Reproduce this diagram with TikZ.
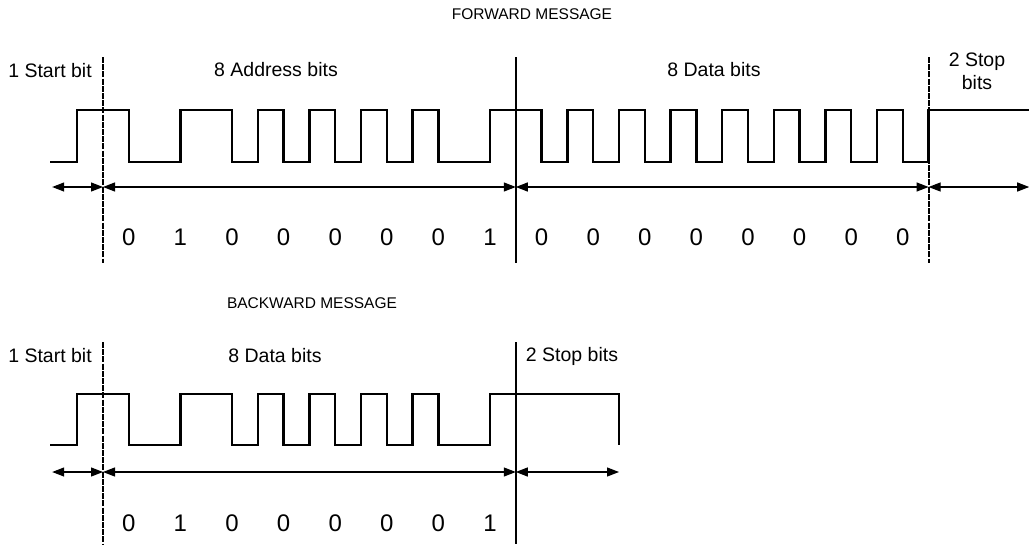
\documentclass[tikz,border=0pt]{standalone}
\usepackage{fontspec}
\setmainfont{Liberation Sans}
\usetikzlibrary{arrows.meta}

\tikzset{
  wave/.style={line width=2.4pt, line join=miter},
  divsolid/.style={line width=2pt},
  divdashed/.style={line width=2pt, dash pattern=on 6pt off 1.2pt},
  span/.style={line width=1.2pt,
    {Triangle[length=12pt,width=9pt]}-{Triangle[length=12pt,width=9pt]}},
  lbl/.style={inner sep=0pt, font=\fontsize{19.5}{23}\selectfont, align=center},
  digit/.style={inner sep=0pt, font=\fontsize{24}{26}\selectfont},
  head/.style={inner sep=0pt, font=\fontsize{15.5}{17}\selectfont}
}

\begin{document}
\begin{tikzpicture}[x=1pt, y=-1pt]
\useasboundingbox (0,0) rectangle (1029,544);

% ---------------- forward message ----------------
\node[head] (fwdhead) at (532,14) {FORWARD MESSAGE};
\node[lbl] (fstart) at (50,71) {1 Start bit};
\node[lbl] (faddr) at (276,70) {8 Address bits};
\node[lbl] (fdata) at (714,70) {8 Data bits};
\node[lbl] (fstop) at (977,71) {2 Stop\\bits};

% positions in half-bit units from the end of the start bit
\begin{scope}[xshift=103pt, x=25.8pt]
  % boundaries
  \coordinate (fa0) at (-1.97,187);
  \coordinate (fa1) at (0,187);
  \coordinate (fa2) at (16,187);
  \coordinate (fa3) at (32,187);
  \coordinate (fa4) at (35.9,187);
  \coordinate (fv1t) at (0,57);  \coordinate (fv1b) at (0,263);
  \coordinate (fv2t) at (16,57); \coordinate (fv2b) at (16,263);
  \coordinate (fv3t) at (32,57); \coordinate (fv3b) at (32,263);

  \draw[divdashed] (fv1t) -- (fv1b);
  \draw[divsolid]  (fv2t) -- (fv2b);
  \draw[divdashed] (fv3t) -- (fv3b);

  % Manchester waveform: start bit, address 01000001, data 00000000, stop
  \draw[wave] (-2.05,162)
    -| (-1,110) -| (1,162) -| (3,110) -| (5,162)
    -| (6,110) -| (7,162) -| (8,110) -| (9,162)
    -| (10,110) -| (11,162) -| (12,110) -| (13,162)
    -| (15,110) -| (17,162)
    -| (18,110) -| (19,162) -| (20,110) -| (21,162)
    -| (22,110) -| (23,162) -| (24,110) -| (25,162)
    -| (26,110) -| (27,162) -| (28,110) -| (29,162)
    -| (30,110) -| (31,162) -| (32,110) -- (35.9,110);

  \draw[span] (fa0) -- (fa1);
  \draw[span] (fa1) -- (fa2);
  \draw[span] (fa2) -- (fa3);
  \draw[span] (fa3) -- (fa4);

  \foreach \d [count=\i from 0] in {0,1,0,0,0,0,0,1,0,0,0,0,0,0,0,0}
    \node[digit] (fbit\i) at ({2*\i+1},237) {\d};
\end{scope}

% ---------------- backward message ----------------
\node[head] (bwdhead) at (312,303) {BACKWARD MESSAGE};
\node[lbl] (bstart) at (50,356) {1 Start bit};
\node[lbl] (bdata) at (275,356) {8 Data bits};
\node[lbl] (bstop) at (572,356) {2 Stop bits};

\begin{scope}[xshift=103pt, x=25.8pt]
  \coordinate (ba0) at (-1.97,472);
  \coordinate (ba1) at (0,472);
  \coordinate (ba2) at (16,472);
  \coordinate (ba3) at (20,472);
  \coordinate (bv1t) at (0,342);  \coordinate (bv1b) at (0,544);
  \coordinate (bv2t) at (16,342); \coordinate (bv2b) at (16,544);

  \draw[divdashed] (bv1t) -- (bv1b);
  \draw[divsolid]  (bv2t) -- (bv2b);

  % start bit, data 01000001, two stop bits
  \draw[wave] (-2.05,445)
    -| (-1,394) -| (1,445) -| (3,394) -| (5,445)
    -| (6,394) -| (7,445) -| (8,394) -| (9,445)
    -| (10,394) -| (11,445) -| (12,394) -| (13,445)
    -| (15,394) -| (20,445);

  \draw[span] (ba0) -- (ba1);
  \draw[span] (ba1) -- (ba2);
  \draw[span] (ba2) -- (ba3);

  \foreach \d [count=\i from 0] in {0,1,0,0,0,0,0,1}
    \node[digit] (bbit\i) at ({2*\i+1},523) {\d};
\end{scope}
\end{tikzpicture}
\end{document}
